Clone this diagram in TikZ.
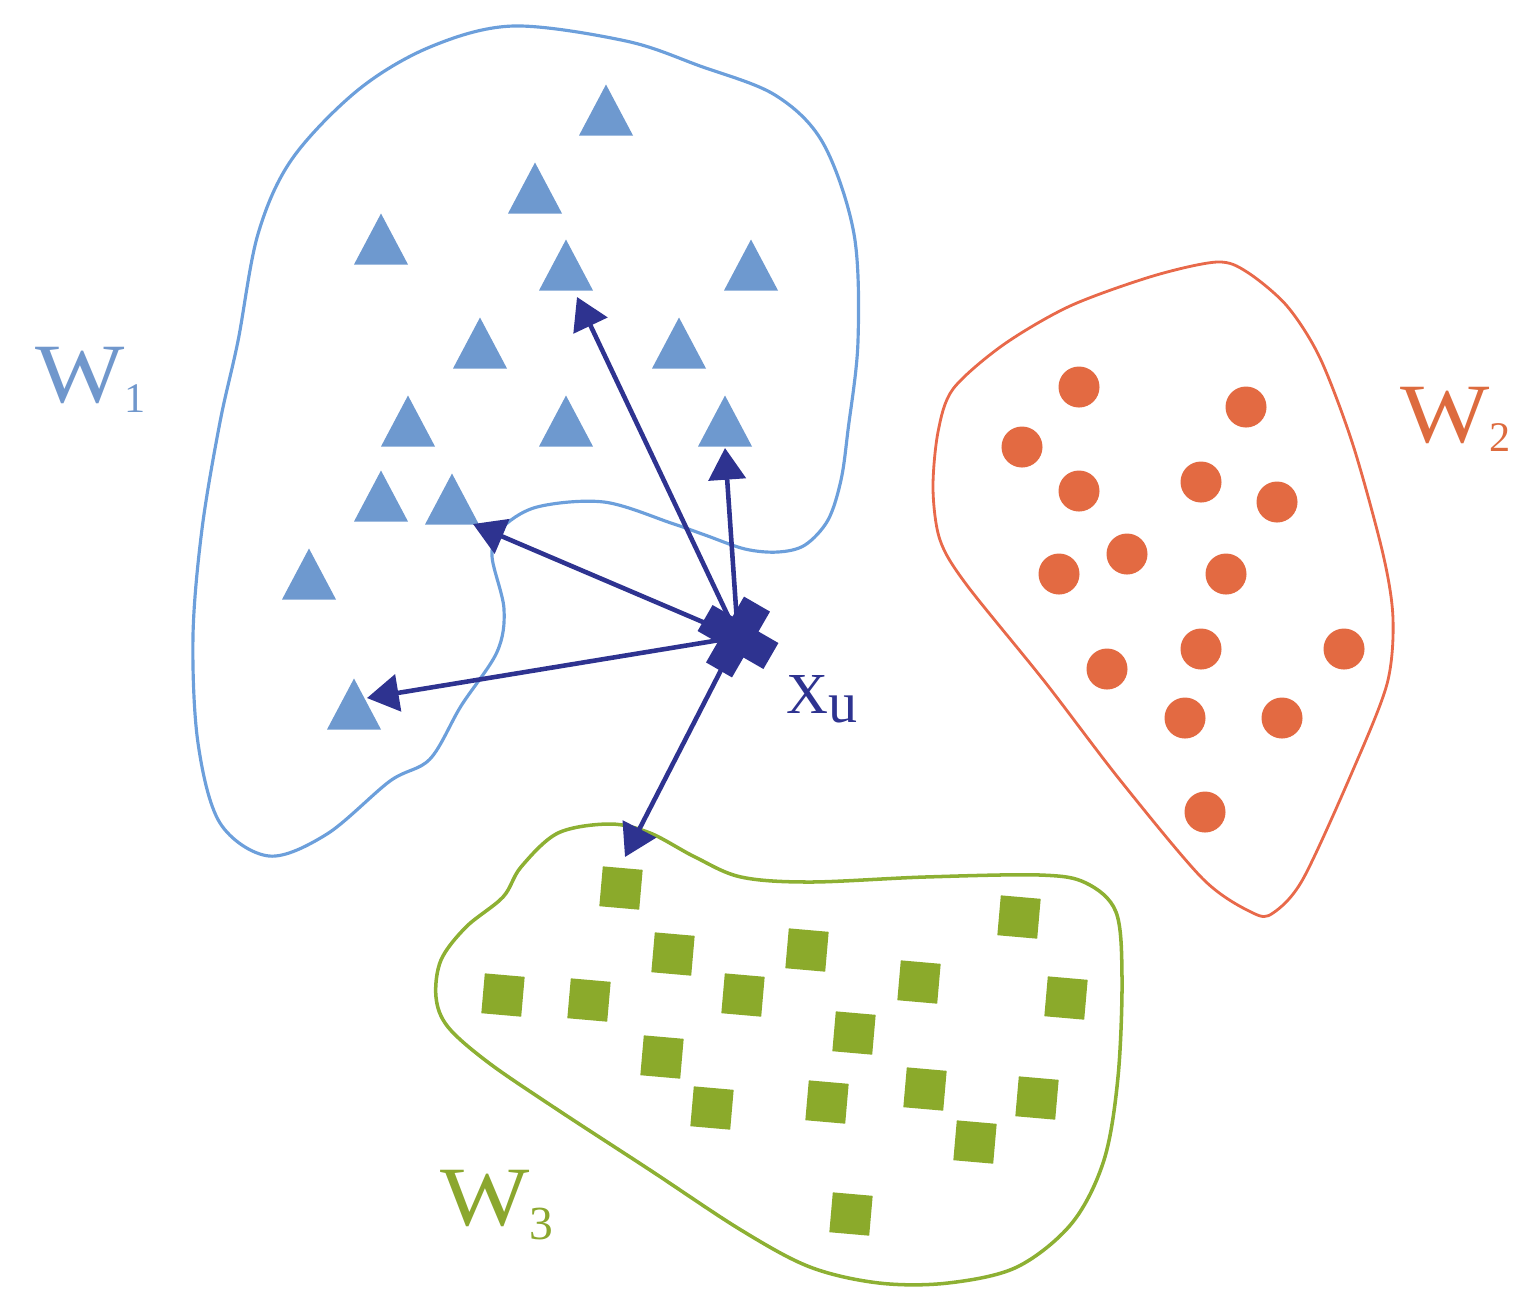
\documentclass[tikz,border=0pt]{standalone}
\usepackage{fontspec}
\setmainfont{Liberation Serif}
\usetikzlibrary{arrows.meta}
\definecolor{triblue}{HTML}{6E99CF}
\definecolor{lineblue}{HTML}{6C9FDB}
\definecolor{navy}{HTML}{2E3390}
\definecolor{dotorange}{HTML}{E36A42}
\definecolor{lineorange}{HTML}{E8694A}
\definecolor{sqgreen}{HTML}{8BAA2B}
\definecolor{linegreen}{HTML}{8DB033}
\definecolor{wone}{HTML}{7097CC}
\definecolor{wtwo}{HTML}{DD6B3E}
\definecolor{wthree}{HTML}{8BA72E}
\newcommand{\bigW}{\scalebox{1.12}[1]{W}}
\begin{document}
\begin{tikzpicture}[x=0.01cm,y=-0.01cm,
  tri/.style={fill=triblue},
  dot/.style={circle, fill=dotorange, inner sep=0pt, minimum size=0.41cm},
  sqr/.style={rectangle, fill=sqgreen, inner sep=0pt, minimum size=0.40cm, rotate=-5},
  arr/.style={draw=navy, line width=1.3pt, -{Triangle[length=9pt,width=10.5pt]}},
  lab/.style={anchor=base west, inner sep=0pt, font=\fontsize{24pt}{24pt}\selectfont}]
\useasboundingbox (0,0) rectangle (1536,1314);

% cluster outlines
\draw[lineblue, line width=0.9pt] plot[smooth cycle, tension=0.55] coordinates {
 (292,159) (358,90) (430,47) (513,26) (626,41) (700,66) (775,95) (823,143)
 (854,234) (858,341) (848,430) (841,480) (828,520) (805,545) (778,552)
 (745,549) (705,535) (671,523) (604,502) (537,507) (501,529) (492,556)
 (504,609) (497,652) (461,706) (430,759) (390,781) (327,834) (269,856)
 (220,823) (198,743) (193,636) (202,529) (220,422) (238,341) (258,234)};
\draw[lineorange, line width=0.8pt] plot[smooth cycle, tension=0.5] coordinates {
 (1217,262) (1247,272) (1287,306) (1320,358) (1353,445) (1383,554) (1393,619)
 (1387,684) (1353,770) (1303,879) (1273,913) (1253,913) (1203,879) (1120,780)
 (1045,682) (966,584) (940,540) (933,489) (938,432) (953,389)
 (1003,345) (1070,306) (1153,276)};
\draw[linegreen, line width=1pt] plot[smooth cycle, tension=0.55] coordinates {
 (610,824) (650,833) (695,857) (741,877) (810,882) (925,877) (1040,875)
 (1086,883) (1116,912) (1122,977) (1118,1077) (1104,1160) (1072,1223)
 (1017,1267) (948,1283) (879,1283) (810,1267) (741,1230) (650,1170)
 (558,1110) (489,1063) (448,1027) (436,997) (441,960) (466,927) (503,897)
 (521,867) (558,833)};

% triangles (W1)
\foreach \x/\y [count=\i] in {606/110,535/188,381/239,566/265,751/265,480/343,
  679/343,408/421,566/421,725/421,381/496,452/499,309/574,354/704} {
  \fill[tri] ({\x},{\y-25.5}) -- ({\x+27},{\y+25.5}) -- ({\x-27},{\y+25.5}) -- cycle;
  \coordinate (t\i) at (\x,\y);
}

% circles (W2)
\foreach \x/\y [count=\i] in {1079/387,1246/407,1022/447,1079/491,1201/482,
  1277/502,1127/554,1059/574,1226/574,1107/669,1201/649,1344/649,1185/718,
  1282/718,1205/812}
  \node[dot] (c\i) at (\x,\y) {};

% squares (W3)
\foreach \x/\y [count=\i] in {621/888,1019/917,673/954,807/950,503/995,589/1000,
  743/995,919/982,1066/998,854/1033,662/1057,712/1108,827/1102,925/1089,
  1037/1098,975/1142,851/1214}
  \node[sqr] (s\i) at (\x,\y) {};

% arrow end points
\coordinate (xu) at (738,637);
\coordinate (a12) at (473,524);
\coordinate (a14) at (367,698);
\coordinate (a4) at (577,297);
\coordinate (a10) at (725,448);
\coordinate (ag) at (625,857);

\draw[arr] (xu) -- (a12);
\draw[arr] (xu) -- (a14);
\draw[arr] (xu) -- (a4);
\draw[arr] (xu) -- (a10);
\draw[arr] (xu) -- (ag);

% the cross x_u
\begin{scope}[rotate around={-30:(738,637)}]
  \fill[navy] (700,622) rectangle (776,652);
  \fill[navy] (723,599) rectangle (753,675);
\end{scope}

% labels
\node[lab, text=wone] (w1) at (35,402) {\bigW\raisebox{-3pt}{\fontsize{12pt}{12pt}\selectfont 1}};
\node[lab, text=wtwo] (w2) at (1400,442) {\bigW\raisebox{-2.8pt}{\fontsize{12pt}{12pt}\selectfont 2}};
\node[lab, text=wthree] (w3) at (440,1225) {\bigW\raisebox{-4pt}{\fontsize{13.5pt}{13.5pt}\selectfont 3}};
\node[anchor=base west, inner sep=0pt, text=navy, font=\fontsize{16.5pt}{16.5pt}\selectfont] (xul) at (786,713) {X\raisebox{-2.8pt}{u}};
\end{tikzpicture}
\end{document}
